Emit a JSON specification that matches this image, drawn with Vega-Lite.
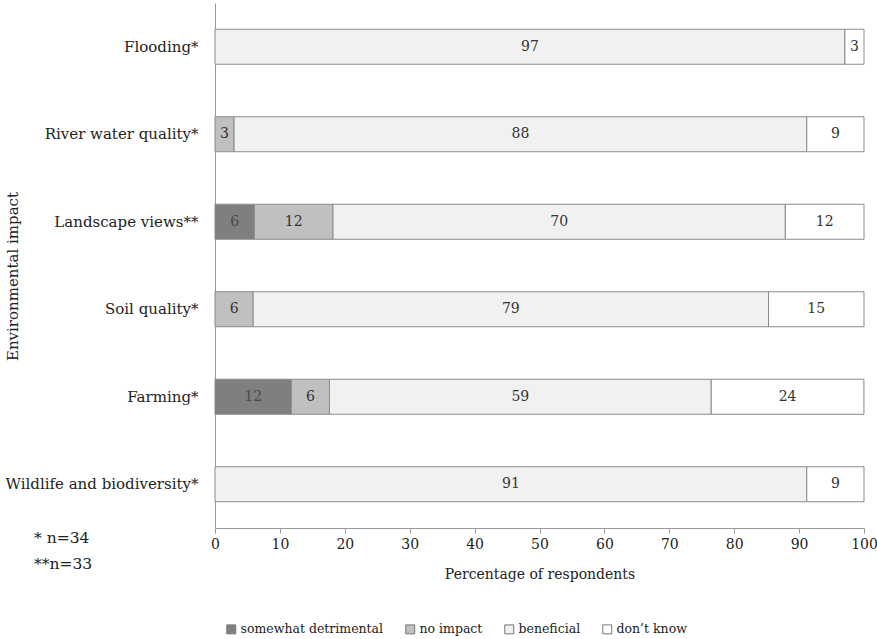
{
  "$schema": "https://vega.github.io/schema/vega-lite/v6.json",
  "width": 649,
  "height": 525,
  "autosize": {"type": "none"},
  "padding": {"left": 215, "top": 3, "right": 13, "bottom": 111},
  "background": "white",
  "config": {
    "font": "DejaVu Serif",
    "view": {"stroke": null},
    "axis": {"labelFont": "DejaVu Serif", "titleFont": "DejaVu Serif", "labelColor": "#222", "titleColor": "#222", "titleFontWeight": "normal", "grid": false, "domainColor": "#999", "tickColor": "#999"},
    "legend": {"labelFont": "DejaVu Serif", "labelColor": "#222"},
    "text": {"font": "DejaVu Serif"},
    "title": {"font": "DejaVu Serif"}
  },
  "title": {
    "text": ["* n=34", "**n=33"],
    "orient": "bottom",
    "anchor": "start",
    "frame": "bounds",
    "fontSize": 15.5,
    "fontWeight": "normal",
    "color": "#222",
    "lineHeight": 26,
    "align": "left",
    "dx": 29,
    "dy": -109
  },
  "data": {
    "values": [
      {"item": "Flooding*", "impact": "beneficial", "order": 3, "value": 97.06},
      {"item": "Flooding*", "impact": "don’t know", "order": 4, "value": 2.94},
      {"item": "River water quality*", "impact": "no impact", "order": 2, "value": 2.94},
      {"item": "River water quality*", "impact": "beneficial", "order": 3, "value": 88.24},
      {"item": "River water quality*", "impact": "don’t know", "order": 4, "value": 8.82},
      {"item": "Landscape views**", "impact": "somewhat detrimental", "order": 1, "value": 6.06},
      {"item": "Landscape views**", "impact": "no impact", "order": 2, "value": 12.12},
      {"item": "Landscape views**", "impact": "beneficial", "order": 3, "value": 69.70},
      {"item": "Landscape views**", "impact": "don’t know", "order": 4, "value": 12.12},
      {"item": "Soil quality*", "impact": "no impact", "order": 2, "value": 5.88},
      {"item": "Soil quality*", "impact": "beneficial", "order": 3, "value": 79.41},
      {"item": "Soil quality*", "impact": "don’t know", "order": 4, "value": 14.71},
      {"item": "Farming*", "impact": "somewhat detrimental", "order": 1, "value": 11.76},
      {"item": "Farming*", "impact": "no impact", "order": 2, "value": 5.88},
      {"item": "Farming*", "impact": "beneficial", "order": 3, "value": 58.82},
      {"item": "Farming*", "impact": "don’t know", "order": 4, "value": 23.53},
      {"item": "Wildlife and biodiversity*", "impact": "beneficial", "order": 3, "value": 91.18},
      {"item": "Wildlife and biodiversity*", "impact": "don’t know", "order": 4, "value": 8.82}
    ]
  },
  "transform": [
    {"stack": "value", "groupby": ["item"], "sort": [{"field": "order"}], "as": ["x0", "x1"]},
    {"calculate": "(datum.x0 + datum.x1) / 2", "as": "xmid"}
  ],
  "encoding": {
    "y": {
      "field": "item",
      "type": "nominal",
      "sort": ["Flooding*", "River water quality*", "Landscape views**", "Soil quality*", "Farming*", "Wildlife and biodiversity*"],
      "scale": {"paddingInner": 0.6, "paddingOuter": 0.3},
      "axis": {
        "title": "Environmental impact",
        "labelFontSize": 15,
        "titleFontSize": 15,
        "ticks": false,
        "labelPadding": 17,
        "labelLimit": 400,
        "titleX": -203,
        "titleY": 273,
        "titleAngle": -90,
        "titleAlign": "center",
        "titleBaseline": "middle"
      }
    }
  },
  "layer": [
    {
      "mark": {"type": "bar", "stroke": "#8a8a8a", "strokeWidth": 1},
      "encoding": {
        "x": {
          "field": "x0",
          "type": "quantitative",
          "scale": {"domain": [0, 100], "nice": false},
          "axis": {
            "title": "Percentage of respondents",
            "values": [0, 10, 20, 30, 40, 50, 60, 70, 80, 90, 100],
            "labelFontSize": 14,
            "titleFontSize": 14,
            "tickSize": 5,
            "labelPadding": 4,
            "titlePadding": 16,
            "labelFlush": false,
            "labelOverlap": false
          }
        },
        "x2": {"field": "x1"},
        "color": {
          "field": "impact",
          "type": "nominal",
          "scale": {
            "domain": ["somewhat detrimental", "no impact", "beneficial", "don’t know"],
            "range": ["#7f7f7f", "#c0c0c0", "#f1f1f1", "#ffffff"]
          },
          "legend": {
            "title": null,
            "orient": "none",
            "direction": "horizontal",
            "columns": 4,
            "legendX": 10,
            "legendY": 620,
            "symbolType": "square",
            "symbolSize": 80,
            "symbolStrokeColor": "#777",
            "symbolStrokeWidth": 1,
            "labelFontSize": 12.5,
            "labelLimit": 300,
            "labelOffset": 3,
            "columnPadding": 19
          }
        }
      }
    },
    {
      "mark": {"type": "text", "fontSize": 14, "baseline": "middle", "align": "center"},
      "encoding": {
        "x": {"field": "xmid", "type": "quantitative"},
        "text": {"field": "value", "type": "quantitative", "format": ".0f"},
        "color": {
          "condition": {"test": "datum.impact === 'somewhat detrimental'", "value": "#4a4a4a"},
          "value": "#333333"
        }
      }
    }
  ]
}
